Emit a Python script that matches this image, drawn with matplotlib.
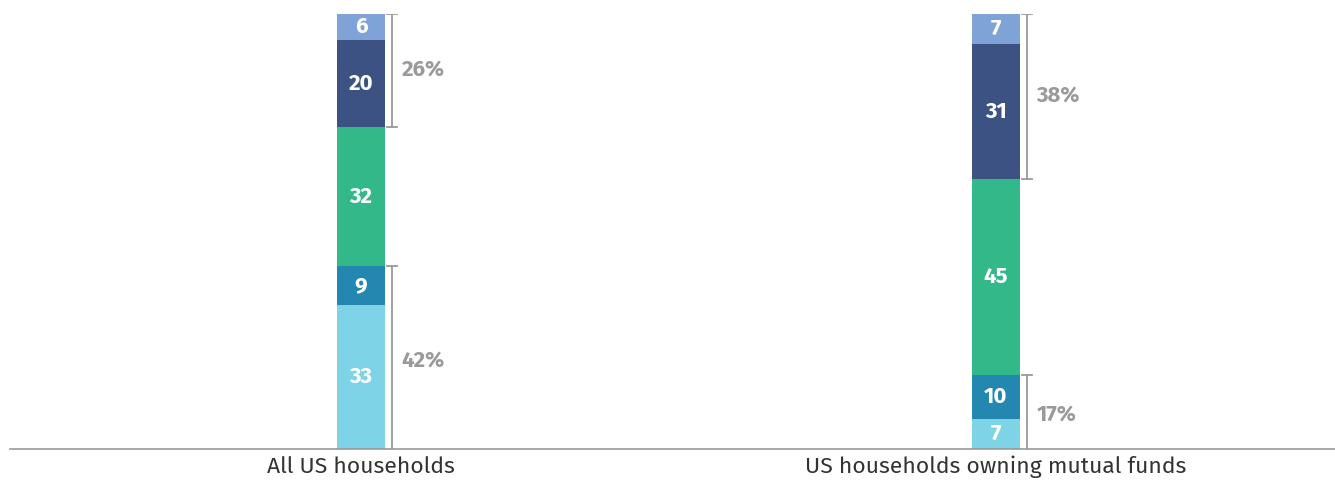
import matplotlib
matplotlib.use("Agg")
import matplotlib.pyplot as plt

categories = ["All US households", "US households owning mutual funds"]
seg1 = [33, 7]
seg2 = [9, 10]
seg3 = [32, 45]
seg4 = [20, 31]
seg5 = [6, 7]
bracket_top_labels = ["26%", "38%"]
bracket_bottom_labels = ["42%", "17%"]

colors = ["#7fd3e6", "#2487b0", "#33b88a", "#3b5282", "#7fa3d6"]
series = [seg1, seg2, seg3, seg4, seg5]

plt.rcParams['font.family'] = ['Fira Sans', 'Open Sans', 'DejaVu Sans']

fig = plt.figure(figsize=(13.35, 4.8), dpi=100)
ax = fig.add_axes([10/1335, 31/480, 1325/1335, 435/480])
x = [0, 1]
w = 0.0756
bottoms = [0, 0]
for s, c in zip(series, colors):
    ax.bar(x, s, bottom=bottoms, width=w, color=c, edgecolor='none')
    for i in range(2):
        ax.text(x[i], bottoms[i] + s[i] / 2, str(s[i]), ha='center', va='center',
                color='white', fontsize=16, fontweight='bold')
    bottoms = [b + v for b, v in zip(bottoms, s)]

gray = "#9a9a9a"
off = 0.0488
tk = 0.008
for i in range(2):
    bx = x[i] + off
    # bottom bracket
    lo, hi = 0, seg1[i] + seg2[i]
    ax.plot([bx, bx], [lo, hi], color=gray, lw=1.3)
    ax.plot([bx - tk, bx + tk], [hi, hi], color=gray, lw=1.3)
    ax.text(bx + 0.015, (lo + hi) / 2 - 0.8, bracket_bottom_labels[i], ha='left', va='center',
            color=gray, fontsize=16, fontweight='bold')
    # top bracket
    lo = seg1[i] + seg2[i] + seg3[i]
    hi = lo + seg4[i] + seg5[i]
    ax.plot([bx, bx], [lo, hi], color=gray, lw=1.3)
    ax.plot([bx - tk, bx + tk], [hi, hi], color=gray, lw=1.3)
    ax.plot([bx - tk, bx + tk], [lo, lo], color=gray, lw=1.3)
    ax.text(bx + 0.015, (lo + hi) / 2, bracket_top_labels[i], ha='left', va='center',
            color=gray, fontsize=16, fontweight='bold')

ax.set_xlim(-0.553, 1.534)
ax.set_ylim(0, 100)
for sp in ['top', 'right', 'left']:
    ax.spines[sp].set_visible(False)
ax.spines['bottom'].set_color('#999999')
ax.spines['bottom'].set_linewidth(1.2)
ax.set_yticks([])
ax.set_xticks(x)
ax.set_xticklabels(categories, fontsize=16.5, color='#333333')
ax.tick_params(axis='x', length=0, pad=5)

fig.savefig("out.png", dpi=100)
